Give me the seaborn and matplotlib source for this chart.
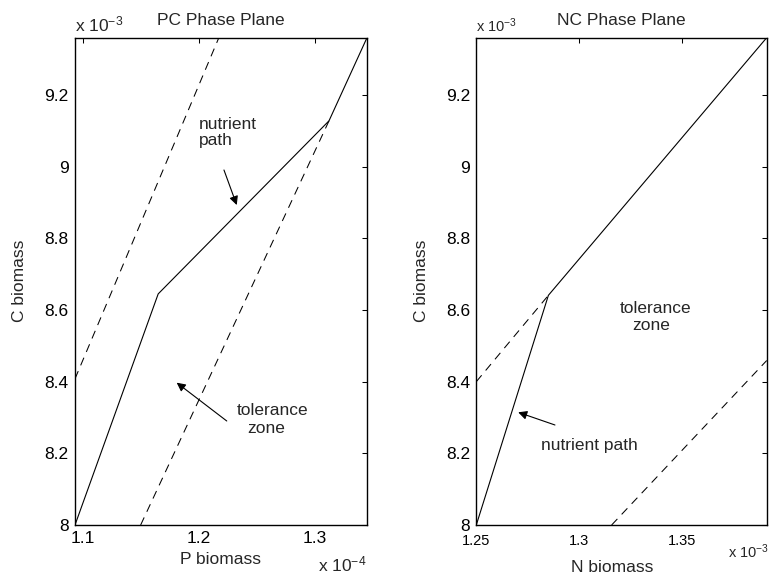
import matplotlib
matplotlib.use('Agg')
import matplotlib.pyplot as plt
import seaborn as sns

# ---------------- data ----------------
# PC phase plane (P biomass vs C biomass)
pc_path_P = [1.0934e-4, 1.1650e-4, 1.3120e-4, 1.3447e-4]
pc_path_C = [8.000e-3, 8.645e-3, 9.128e-3, 9.360e-3]
pc_upper_P = [1.0934e-4, 1.2172e-4]
pc_upper_C = [8.408e-3, 9.360e-3]
pc_lower_P = [1.1499e-4, 1.3120e-4]
pc_lower_C = [8.000e-3, 9.128e-3]

# NC phase plane (N biomass vs C biomass)
nc_path_N = [1.2500e-3, 1.2851e-3, 1.3914e-3]
nc_path_C = [8.000e-3, 8.641e-3, 9.360e-3]
nc_upper_N = [1.2500e-3, 1.2851e-3]
nc_upper_C = [8.400e-3, 8.641e-3]
nc_lower_N = [1.3159e-3, 1.3914e-3]
nc_lower_C = [8.000e-3, 8.459e-3]

# ticks
pc_xticks = [1.1e-4, 1.2e-4, 1.3e-4]
pc_xlabels = ['1.1', '1.2', '1.3']
nc_xticks = [1.25e-3, 1.30e-3, 1.35e-3]
nc_xlabels = ['1.25', '1.3', '1.35']
c_yticks = [8.0e-3, 8.2e-3, 8.4e-3, 8.6e-3, 8.8e-3, 9.0e-3, 9.2e-3]
c_ylabels = ['8', '8.2', '8.4', '8.6', '8.8', '9', '9.2']

# ---------------- style ----------------
sns.set_style('white')
plt.rcParams['font.family'] = ['Liberation Sans', 'DejaVu Sans']
plt.rcParams['mathtext.fontset'] = 'custom'
plt.rcParams['mathtext.rm'] = 'Liberation Sans'
plt.rcParams['mathtext.it'] = 'Liberation Sans'

FS = 12.5
W, H = 770, 576
fig = plt.figure(figsize=(W / 100, H / 100), dpi=100)
fig.patch.set_facecolor('white')


def px_rect(x0, y0, x1, y1):
    return [x0 / W, 1 - y1 / H, (x1 - x0) / W, (y1 - y0) / H]


def fx(x):
    return x / W


def fy(y):
    return 1 - y / H


ax1 = fig.add_axes(px_rect(75, 37.7, 367, 525))
ax2 = fig.add_axes(px_rect(476.3, 37.7, 766.7, 525))

solid = dict(color='black', lw=0.8, sort=False, estimator=None)
dashed = dict(color='black', lw=0.75, sort=False, estimator=None,
              linestyle=(0, (8, 6)))

sns.lineplot(x=pc_path_P, y=pc_path_C, ax=ax1, **solid)
sns.lineplot(x=pc_upper_P, y=pc_upper_C, ax=ax1, **dashed)
sns.lineplot(x=pc_lower_P, y=pc_lower_C, ax=ax1, **dashed)

sns.lineplot(x=nc_path_N, y=nc_path_C, ax=ax2, **solid)
sns.lineplot(x=nc_upper_N, y=nc_upper_C, ax=ax2, **dashed)
sns.lineplot(x=nc_lower_N, y=nc_lower_C, ax=ax2, **dashed)

ax1.set_xlim(pc_path_P[0], pc_path_P[-1])
ax2.set_xlim(nc_path_N[0], nc_path_N[-1])
for ax in (ax1, ax2):
    ax.set_ylim(pc_path_C[0], pc_path_C[-1])
    ax.set_yticks(c_yticks, c_ylabels)
    for sp in ax.spines.values():
        sp.set_visible(True)
        sp.set_color('black')
        sp.set_linewidth(1.0)
    ax.tick_params(direction='in', top=True, right=True, length=3.8,
                   width=0.75, colors='black', labelsize=FS, pad=4.5)
    ax.set_xlabel('')
    ax.set_ylabel('')

ax1.set_xticks(pc_xticks, pc_xlabels)
ax2.set_xticks(nc_xticks, nc_xlabels)
ax2.tick_params(axis='x', labelsize=10.5, pad=6.8)

# titles
fig.text(fx(221), fy(25), 'PC Phase Plane', ha='center', va='baseline', fontsize=FS)
fig.text(fx(621.5), fy(25), 'NC Phase Plane', ha='center', va='baseline', fontsize=FS)

# exponent labels
fig.text(fx(75), fy(31.7), r'x 10$^{-3}$', ha='left', va='baseline', fontsize=FS)
fig.text(fx(476), fy(31.7), r'x 10$^{-3}$', ha='left', va='baseline', fontsize=10.5)
fig.text(fx(318), fy(571), r'x 10$^{-4}$', ha='left', va='baseline', fontsize=FS)
fig.text(fx(728), fy(558), r'x 10$^{-3}$', ha='left', va='baseline', fontsize=10.5)

# axis labels
fig.text(fx(221), fy(563.5), 'P biomass', ha='center', va='baseline', fontsize=FS)
fig.text(fx(612), fy(572), 'N biomass', ha='center', va='baseline', fontsize=FS)
fig.text(fx(20), fy(281), 'C biomass', ha='center', va='center',
         rotation=90, fontsize=FS)
fig.text(fx(422), fy(281), 'C biomass', ha='center', va='center',
         rotation=90, fontsize=FS)

# annotations
arrow = dict(arrowstyle='-|>', color='black', lw=0.8, mutation_scale=13,
             shrinkA=0, shrinkB=0)
ax1.text(1.2001e-4, 9.1052e-3, 'nutrient', ha='left', va='baseline', fontsize=FS)
ax1.text(1.2001e-4, 9.0592e-3, 'path', ha='left', va='baseline', fontsize=FS)
ax1.annotate('', xy=(1.2326e-4, 8.893e-3), xytext=(1.2216e-4, 8.9908e-3),
             arrowprops=arrow)
ax1.text(1.2328e-4, 8.307e-3, 'tolerance', ha='left', va='baseline', fontsize=FS)
ax1.text(1.2420e-4, 8.2568e-3, 'zone', ha='left', va='baseline', fontsize=FS)
ax1.annotate('', xy=(1.1809e-4, 8.3972e-3), xytext=(1.2240e-4, 8.2903e-3),
             arrowprops=arrow)

ax2.text(1.3200e-3, 8.5917e-3, 'tolerance', ha='left', va='baseline', fontsize=FS)
ax2.text(1.3257e-3, 8.5429e-3, 'zone', ha='left', va='baseline', fontsize=FS)
ax2.text(1.2814e-3, 8.2093e-3, 'nutrient path', ha='left', va='baseline', fontsize=FS)
ax2.annotate('', xy=(1.2704e-3, 8.3145e-3), xytext=(1.2883e-3, 8.2791e-3),
             arrowprops=arrow)

fig.savefig('out.png', dpi=100, facecolor='white')
